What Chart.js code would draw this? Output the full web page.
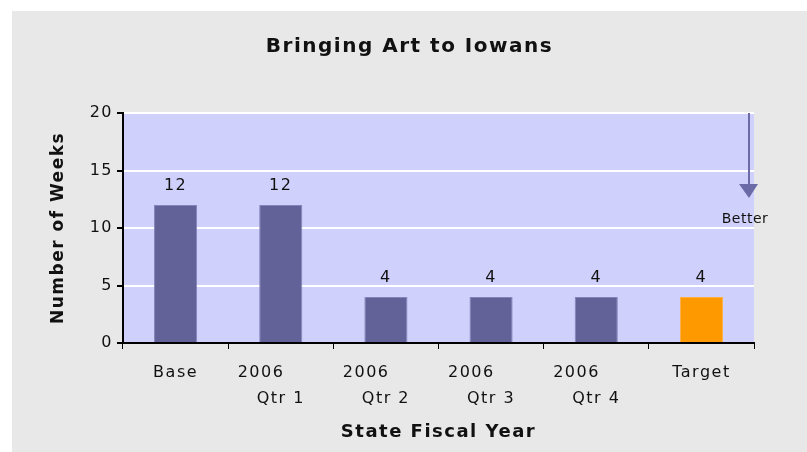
<!DOCTYPE html>
<html>
<head>
<meta charset="utf-8">
<script src="https://cdn.jsdelivr.net/npm/chart.js@4"></script>
<style>
    body { margin: 0; background: #fff; }
    #wrap { position: absolute; left: 12px; top: 11px; width: 795px; height: 441px; background: #e8e8e8; }
</style>
</head>
<body>
<div id="wrap"><canvas id="myChart" width="795" height="441"></canvas></div>
<script>
// Données du graphique
const categories = [['Base'], ['2006      ', 'Qtr 1'], ['2006      ', 'Qtr 2'], ['2006      ', 'Qtr 3'], ['2006      ', 'Qtr 4'], ['Target']];
const weeks = [12, 12, 4, 4, 4, 4];
const barColors = ['#626299', '#626299', '#626299', '#626299', '#626299', '#ff9900'];
const borderColors = ['#8484bc', '#8484bc', '#8484bc', '#8484bc', '#8484bc', '#ffb040'];
const yTicks = [0, 5, 10, 15, 20];

const font = 'DejaVu Sans';

// Fond de la zone du graphique
const plotBackground = {
    id: 'plotBackground',
    beforeDraw(chart) {
        const { ctx, chartArea: a } = chart;
        ctx.letterSpacing = '1.5px';
        ctx.save();
        ctx.fillStyle = '#d0d0fc';
        ctx.fillRect(a.left, a.top, a.right - a.left, a.bottom - a.top);
        ctx.restore();
    }
};

// Valeurs au-dessus des barres + flèche "Better"
const barLabels = {
    id: 'barLabels',
    afterDatasetsDraw(chart) {
        const { ctx, chartArea: a, scales } = chart;
        const meta = chart.getDatasetMeta(0);
        ctx.save();
        ctx.fillStyle = '#111';
        ctx.font = '16px "' + font + '"';
        ctx.textAlign = 'center';
        ctx.textBaseline = 'middle';
        meta.data.forEach((bar, i) => {
            ctx.fillText(weeks[i], bar.x, bar.y - 19);
        });

        const x = a.right - 5;
        const yTop = scales.y.getPixelForValue(20);
        const yTip = scales.y.getPixelForValue(12.6);
        ctx.strokeStyle = '#6b6ba8';
        ctx.fillStyle = '#6b6ba8';
        ctx.lineWidth = 2;
        ctx.beginPath();
        ctx.moveTo(x, yTop);
        ctx.lineTo(x, yTip - 10);
        ctx.stroke();
        ctx.beginPath();
        ctx.moveTo(x - 10, yTip - 14);
        ctx.lineTo(x + 9, yTip - 14);
        ctx.lineTo(x, yTip);
        ctx.closePath();
        ctx.fill();

        ctx.fillStyle = '#111';
        ctx.font = '14px "' + font + '"';
        ctx.letterSpacing = '0.5px';
        ctx.fillText('Better', x - 4, yTip + 21);
        ctx.restore();
    }
};

const ctx = document.getElementById('myChart').getContext('2d');
ctx.letterSpacing = '1.5px';
const myChart = new Chart(ctx, {
    type: 'bar',
    data: {
        labels: categories,
        datasets: [{
            label: 'Number of Weeks',
            data: weeks,
            backgroundColor: barColors,
            borderColor: borderColors,
            borderWidth: 1,
            barPercentage: 0.41,
            categoryPercentage: 1
        }]
    },
    options: {
        responsive: false,
        animation: false,
        layout: { padding: 0, autoPadding: false },
        plugins: {
            legend: { display: false },
            tooltip: { enabled: false },
            title: {
                display: true,
                text: 'Bringing Art to Iowans',
                color: '#111',
                font: { family: font, size: 20, weight: 'bold' },
                padding: { top: 24, bottom: 54 }
            }
        },
        scales: {
            x: {
                afterFit: axis => { axis.height = 109; },
                grid: { offset: true, drawOnChartArea: false, color: '#000', tickColor: '#000', tickLength: 6 },
                border: { color: '#000', width: 2 },
                ticks: { color: '#111', font: { family: font, size: 16, lineHeight: 1.6 }, padding: 11, maxRotation: 0 },
                title: {
                    display: true,
                    text: 'State Fiscal Year',
                    color: '#111',
                    font: { family: font, size: 18, weight: 'bold' },
                    padding: { bottom: 9 }
                }
            },
            y: {
                min: 0,
                max: 20,
                afterFit: axis => { axis.width = 111; },
                afterBuildTicks: axis => { axis.ticks = yTicks.map(v => ({ value: v })); },
                grid: { color: '#ffffff', lineWidth: 2, tickColor: '#000', tickLength: 6 },
                border: { color: '#000', width: 2 },
                ticks: { color: '#111', font: { family: font, size: 16 }, padding: 4 },
                title: {
                    display: true,
                    text: 'Number of Weeks',
                    color: '#111',
                    font: { family: font, size: 17, weight: 'bold' },
                    padding: { top: 36 }
                }
            },
            // axe vide à droite pour réserver la marge
            right: {
                position: 'right',
                afterFit: axis => { axis.width = 53; },
                grid: { display: false },
                border: { display: false },
                ticks: { display: false }
            }
        }
    },
    plugins: [plotBackground, barLabels]
});
</script>
</body>
</html>
